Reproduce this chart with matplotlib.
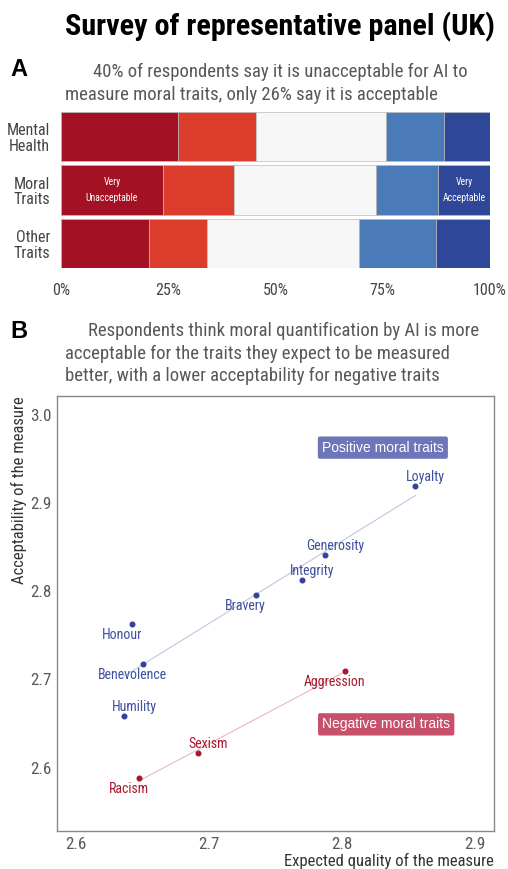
import matplotlib
matplotlib.use("Agg")
import matplotlib.pyplot as plt
import matplotlib.font_manager as fm
import numpy as np

# fuentes disponibles: preferimos una condensada si existe
nombres = {f.name for f in fm.fontManager.ttflist}
if "Roboto Condensed" in nombres:
    fuente = "Roboto Condensed"
elif "Liberation Sans Narrow" in nombres:
    fuente = "Liberation Sans Narrow"
else:
    fuente = "Roboto"
plt.rcParams["font.family"] = [fuente, "DejaVu Sans"]

# --- datos panel A (porcentajes por categoria) ---
categorias = ["Mental\nHealth", "Moral\nTraits", "Other\nTraits"]
muy_inaceptable = [27.3, 23.8, 20.5]
inaceptable = [18.2, 16.5, 13.5]
neutral = [30.3, 33.1, 35.5]
aceptable = [13.5, 14.5, 17.9]
muy_aceptable = [10.7, 12.1, 12.6]
colores_a = ["#a51124", "#dc3d2d", "#f7f7f7", "#4a7ab8", "#2f4799"]
ticks_a = ["0%", "25%", "50%", "75%", "100%"]

# --- datos panel B ---
rasgos_pos = ["Loyalty", "Generosity", "Integrity", "Bravery", "Honour", "Benevolence", "Humility"]
calidad_pos = [2.855, 2.787, 2.770, 2.735, 2.642, 2.650, 2.636]
acept_pos = [2.920, 2.841, 2.813, 2.796, 2.763, 2.718, 2.658]
rasgos_neg = ["Aggression", "Sexism", "Racism"]
calidad_neg = [2.802, 2.692, 2.647]
acept_neg = [2.710, 2.616, 2.588]
# posicion de la etiqueta: 1 arriba-derecha, -1 abajo-izquierda
pos_etq_pos = [1, 1, 1, -1, -1, -1, 1]
pos_etq_neg = [-1, 1, -1]

azul = "#36429a"
rojo = "#a8172f"
gris = "#585858"

fig = plt.figure(figsize=(5.08, 8.69), dpi=100)

def fx(px):
    return px / 508

def fy(py):
    return 1 - py / 869

fig.text(fx(280), fy(27), "Survey of representative panel (UK)", ha="center", va="center",
         fontsize=21.7, fontweight="bold", color="black")

# ---------------- Panel A ----------------
fig.text(fx(10), fy(70), "A", fontsize=17, fontweight="bold", ha="left", va="center",
         family="Liberation Sans")
fig.text(fx(93), fy(72), "40% of respondents say it is unacceptable for AI to",
         fontsize=13.5, color=gris, ha="left", va="center")
fig.text(fx(65), fy(95), "measure moral traits, only 26% say it is acceptable",
         fontsize=13.5, color=gris, ha="left", va="center")

axA = fig.add_axes([fx(61), fy(268), fx(490) - fx(61), (268 - 112) / 869])
y = np.arange(len(categorias))
izq = np.zeros(len(categorias))
for serie, c in zip([muy_inaceptable, inaceptable, neutral, aceptable, muy_aceptable], colores_a):
    axA.barh(y, serie, left=izq, height=0.92, color=c, edgecolor="#bbbbbb", linewidth=0.5)
    izq = izq + np.array(serie)
axA.set_xlim(0, 100)
axA.set_ylim(2.46, -0.46)
axA.set_yticks(y)
axA.set_yticklabels(categorias, fontsize=11.5, color="#444444", linespacing=1.05)
axA.set_xticks([0, 25, 50, 75, 100])
axA.set_xticklabels(ticks_a, fontsize=11.5, color="#444444")
axA.tick_params(axis="x", length=0, pad=11)
axA.tick_params(axis="y", length=0, pad=8)
for s in axA.spines.values():
    s.set_visible(False)
axA.text(muy_inaceptable[1] / 2, 1, "Very\nUnacceptable", ha="center", va="center",
         color="white", fontsize=7, linespacing=1.7)
axA.text(100 - muy_aceptable[1] / 2, 1, "Very\nAcceptable", ha="center", va="center",
         color="white", fontsize=7, linespacing=1.7)

# ---------------- Panel B ----------------
fig.text(fx(10), fy(332), "B", fontsize=17, fontweight="bold", ha="left", va="center",
         family="Liberation Sans")
fig.text(fx(88), fy(331), "Respondents think moral quantification by AI is more",
         fontsize=13.5, color=gris, ha="left", va="center")
fig.text(fx(65), fy(354), "acceptable for the traits they expect to be measured",
         fontsize=13.5, color=gris, ha="left", va="center")
fig.text(fx(65), fy(376), "better, with a lower acceptability for negative traits",
         fontsize=13.5, color=gris, ha="left", va="center")

axB = fig.add_axes([fx(57), fy(831), fx(494) - fx(57), (831 - 396) / 869])
axB.set_xlim(2.5857, 2.914)
axB.set_ylim(2.528, 3.0216)

# rectas de ajuste
for xs, ys, c in [(calidad_pos, acept_pos, azul), (calidad_neg, acept_neg, rojo)]:
    coef = np.polyfit(xs, ys, 1)
    recta = np.poly1d(coef)
    xr = np.linspace(min(xs), max(xs), 10)
    axB.plot(xr, recta(xr), color=c, alpha=0.3, linewidth=0.8)

axB.scatter(calidad_pos, acept_pos, s=11, color=azul, zorder=3)
axB.scatter(calidad_neg, acept_neg, s=11, color=rojo, zorder=3)

for nombres_r, xs, ys, lado, c in [(rasgos_pos, calidad_pos, acept_pos, pos_etq_pos, "#3c4f9e"),
                                    (rasgos_neg, calidad_neg, acept_neg, pos_etq_neg, rojo)]:
    for i in range(len(nombres_r)):
        if lado[i] > 0:
            desp = (10, 9)
        else:
            desp = (-10, -11)
        axB.annotate(nombres_r[i], (xs[i], ys[i]), xytext=desp, textcoords="offset pixels",
                     ha="center", va="center", fontsize=10, color=c)

axB.text(2.8305, 2.963, "Positive moral traits", ha="center", va="center", fontsize=10,
         color="white", family="Liberation Sans",
         bbox=dict(boxstyle="round,pad=0.3,rounding_size=0.15", fc="#6c76b8", ec="none"))
axB.text(2.833, 2.649, "Negative moral traits", ha="center", va="center", fontsize=10,
         color="white", family="Liberation Sans",
         bbox=dict(boxstyle="round,pad=0.3,rounding_size=0.15", fc="#c7506a", ec="none"))

axB.set_xticks([2.6, 2.7, 2.8, 2.9])
axB.set_xticklabels(["2.6", "2.7", "2.8", "2.9"])
axB.set_yticks([2.6, 2.7, 2.8, 2.9, 3.0])
axB.set_yticklabels(["2.6", "2.7", "2.8", "2.9", "3.0"])
axB.tick_params(length=0, labelsize=12.3, labelcolor=gris, pad=4)
for s in axB.spines.values():
    s.set_color("#888888")
    s.set_linewidth(1.0)
axB.set_xlabel("Expected quality of the measure", fontsize=12, color="#333333", loc="right",
               labelpad=1)
axB.set_ylabel("Acceptability of the measure", fontsize=12, color="#333333", loc="top",
               labelpad=2)

fig.savefig("out.png", dpi=100)
